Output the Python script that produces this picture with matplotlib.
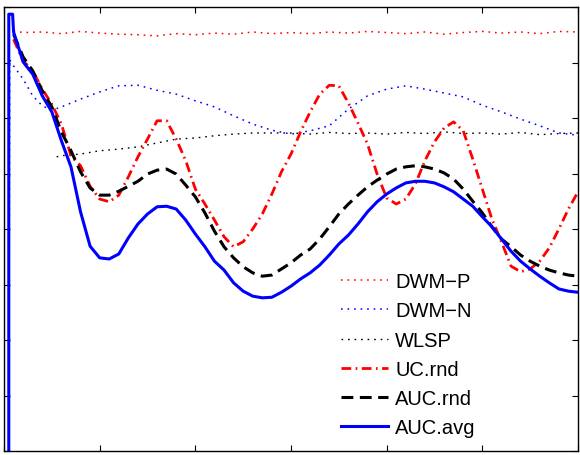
import numpy as np
import matplotlib
matplotlib.use("Agg")
import matplotlib.pyplot as plt

plt.rcParams['font.family'] = ['Liberation Sans', 'DejaVu Sans']
plt.rcParams['lines.scale_dashes'] = False

# ---- data ----
grid = list(range(10, 601, 10))

auc_avg_x = [5, 5, 9] + grid
auc_avg = [0.0, 7.87, 7.87,
           7.55, 7.01, 6.79, 6.40, 6.11, 5.59, 5.12, 4.31, 3.69, 3.48,
           3.46, 3.55, 3.84, 4.09, 4.27, 4.40, 4.41, 4.36, 4.16, 3.91,
           3.68, 3.42, 3.26, 3.03, 2.88, 2.79, 2.76, 2.77, 2.86, 2.97,
           3.10, 3.21, 3.35, 3.53, 3.73, 3.89, 4.09, 4.31, 4.49, 4.63,
           4.74, 4.83, 4.86, 4.86, 4.83, 4.76, 4.67, 4.54, 4.41, 4.22,
           4.04, 3.82, 3.60, 3.42, 3.28, 3.15, 3.03, 2.92, 2.88, 2.86]

auc_rnd_x = grid
auc_rnd = [7.51, 7.10, 6.85, 6.49, 6.20, 5.75, 5.41, 5.03, 4.74, 4.61,
           4.61, 4.68, 4.77, 4.86, 4.99, 5.06, 5.08, 4.99, 4.79, 4.58,
           4.29, 3.96, 3.68, 3.48, 3.32, 3.21, 3.15, 3.17, 3.28, 3.39,
           3.53, 3.64, 3.82, 4.04, 4.27, 4.45, 4.61, 4.76, 4.88, 4.99,
           5.08, 5.12, 5.14, 5.12, 5.08, 5.01, 4.90, 4.72, 4.50, 4.29,
           4.04, 3.82, 3.68, 3.53, 3.42, 3.33, 3.26, 3.21, 3.17, 3.15]

uc_rnd_x = grid
uc_rnd = [7.42, 7.03, 6.85, 6.52, 6.25, 5.89, 5.32, 5.14, 4.77, 4.54,
          4.49, 4.61, 4.94, 5.30, 5.62, 5.95, 5.95, 5.62, 5.23, 4.72,
          4.45, 4.16, 3.86, 3.68, 3.77, 4.00, 4.27, 4.63, 5.03, 5.35,
          5.75, 6.11, 6.43, 6.59, 6.58, 6.27, 5.91, 5.53, 4.99, 4.56,
          4.45, 4.54, 4.81, 5.23, 5.57, 5.82, 5.93, 5.77, 5.26, 4.72,
          4.18, 3.77, 3.33, 3.23, 3.28, 3.42, 3.66, 4.00, 4.36, 4.67]

dwm_n_x = [5, 6, 10, 20, 30, 40, 50, 60, 80, 100, 120, 140, 160, 180, 200,
           220, 240, 260, 280, 300, 320, 340, 360, 380, 400, 420, 440, 460,
           480, 500, 520, 540, 560, 580, 600]
dwm_n = [0.0, 7.05, 6.94, 6.70, 6.40, 6.22, 6.14, 6.20, 6.34, 6.47, 6.58,
         6.59, 6.50, 6.43, 6.31, 6.20, 6.04, 5.89, 5.78, 5.71, 5.77, 5.86,
         6.16, 6.40, 6.52, 6.58, 6.52, 6.45, 6.38, 6.23, 6.11, 5.98, 5.86,
         5.73, 5.69]

wlsp_x = [55, 60, 80, 100, 120, 140, 160, 180, 200, 220, 240, 260, 280,
          300, 320, 340, 360, 380, 400, 420, 440, 460, 480, 500, 520, 540,
          560, 580, 600]
wlsp = [5.30, 5.32, 5.35, 5.41, 5.44, 5.48, 5.55, 5.62, 5.64, 5.68, 5.71,
        5.73, 5.73, 5.73, 5.71, 5.74, 5.72, 5.73, 5.71, 5.74, 5.72, 5.75,
        5.72, 5.73, 5.71, 5.74, 5.70, 5.72, 5.73]

dwm_p_x = [10, 20, 40, 60, 80, 100, 120, 140, 160, 180, 200, 220, 240, 260,
           280, 300, 320, 340, 360, 380, 400, 420, 440, 460, 480, 500, 520,
           540, 560, 580, 600]
dwm_p = [7.57, 7.54, 7.55, 7.52, 7.56, 7.53, 7.51, 7.50, 7.48, 7.52, 7.50,
         7.53, 7.51, 7.55, 7.52, 7.54, 7.52, 7.55, 7.53, 7.56, 7.54, 7.52,
         7.55, 7.51, 7.54, 7.56, 7.53, 7.55, 7.52, 7.56, 7.55]

# ---- figure ----
fig = plt.figure(figsize=(5.8, 4.56), dpi=100)
ax = fig.add_axes([4/580, 4/456, 574/580, 444/456])

dot = (1.2, 3.5)
ax.plot(dwm_p_x, dwm_p, color='red', lw=1.1, dashes=dot, label='DWM\u2212P')
ax.plot(dwm_n_x, dwm_n, color='blue', lw=1.1, dashes=dot, label='DWM\u2212N')
ax.plot(wlsp_x, wlsp, color='black', lw=1.0, dashes=dot, label='WLSP')
ax.plot(uc_rnd_x, uc_rnd, color='red', lw=2.0, dashes=(7, 3.2, 1.2, 3.2), label='UC.rnd')
ax.plot(auc_rnd_x, auc_rnd, color='black', lw=2.2, dashes=(8.5, 4.7), label='AUC.rnd')
ax.plot(auc_avg_x, auc_avg, color='blue', lw=2.2, label='AUC.avg')

ax.set_xlim(0, 600)
ax.set_ylim(0, 8)
ax.set_xticks(np.arange(0, 601, 100))
ax.set_yticks(np.arange(0, 8.01, 1))
ax.tick_params(direction='in', length=4, width=0.8, top=True, right=True,
               labelbottom=False, labelleft=False)
for s in ax.spines.values():
    s.set_linewidth(1.0)

leg = ax.legend(loc='upper left', bbox_to_anchor=(0.587, 0.403), frameon=False,
                fontsize=14.5, handlelength=2.34, handletextpad=0.35,
                labelspacing=0.51, borderpad=0, borderaxespad=0)

fig.savefig('out.png', dpi=100)
